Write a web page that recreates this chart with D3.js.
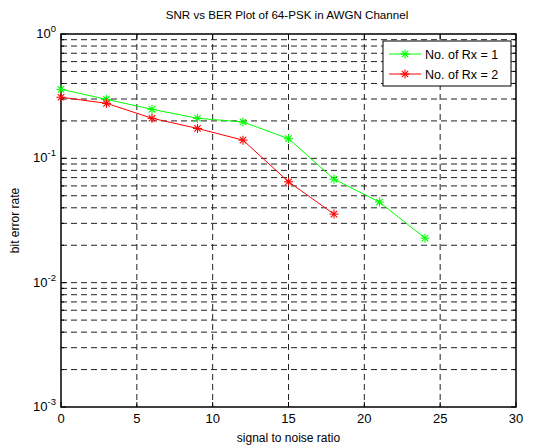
<html>
<head>
<script src="https://d3js.org/d3.v7.min.js"></script>
<style>
  body { margin: 0; background: #fff; }
  text { font-family: "Liberation Sans", Arial, sans-serif; fill: #000; }
  .grid { stroke: #222; stroke-width: 1; stroke-dasharray: 6,4; fill: none; }
</style>
</head>
<body>
<svg id="chart" width="546" height="448"></svg>
<script>
const snr1 = [0, 3, 6, 9, 12, 15, 18, 21, 24];
const ber1 = [0.359, 0.298, 0.248, 0.210, 0.196, 0.144, 0.068, 0.0445, 0.0228];
const snr2 = [0, 3, 6, 9, 12, 15, 18];
const ber2 = [0.31, 0.277, 0.210, 0.174, 0.140, 0.0648, 0.0356];
const xTicks = [0, 5, 10, 15, 20, 25, 30];
const yExps = [0, -1, -2, -3];
const legendLabels = ["No. of Rx = 1", "No. of Rx = 2"];
const colors = ["#00ff00", "#ff0000"];

const svg = d3.select("#chart");
const margin = {top: 34, right: 30, bottom: 41, left: 61};
const w = 546 - margin.left - margin.right;
const h = 448 - margin.top - margin.bottom;
const g = svg.append("g").attr("transform", "translate(" + margin.left + "," + margin.top + ")");

const x = d3.scaleLinear().domain([0, 30]).range([0, w]);
const y = d3.scaleLog().domain([1e-3, 1]).range([h, 0]);

// grid lines
const yGrid = [];
for (let e = -3; e < 0; e++) {
  for (let m = 1; m <= 9; m++) yGrid.push(m * Math.pow(10, e));
}
g.selectAll("line.ygrid").data(yGrid.filter(v => v > 1e-3)).join("line")
  .attr("class", "grid")
  .attr("x1", 0).attr("x2", w)
  .attr("y1", d => y(d)).attr("y2", d => y(d));
g.selectAll("line.xgrid").data(xTicks.slice(1, -1)).join("line")
  .attr("class", "grid")
  .attr("y1", 0).attr("y2", h)
  .attr("x1", d => x(d)).attr("x2", d => x(d));

// ticks (inward, both sides)
const tk = 5;
xTicks.forEach(t => {
  g.append("line").attr("x1", x(t)).attr("x2", x(t)).attr("y1", h).attr("y2", h - tk).attr("stroke", "#000");
  g.append("line").attr("x1", x(t)).attr("x2", x(t)).attr("y1", 0).attr("y2", tk).attr("stroke", "#000");
  g.append("text").attr("x", x(t)).attr("y", h + 16).attr("text-anchor", "middle")
    .attr("font-size", 13).text(t);
});
yGrid.concat([1]).forEach(v => {
  const major = yExps.some(e => Math.abs(Math.log10(v) - e) < 1e-9);
  const len = major ? tk : 3;
  g.append("line").attr("x1", 0).attr("x2", len).attr("y1", y(v)).attr("y2", y(v)).attr("stroke", "#000");
  g.append("line").attr("x1", w).attr("x2", w - len).attr("y1", y(v)).attr("y2", y(v)).attr("stroke", "#000");
});
yExps.forEach(e => {
  const t = g.append("text").attr("x", -5).attr("y", y(Math.pow(10, e)) + 4)
    .attr("text-anchor", "end").attr("font-size", 13);
  t.append("tspan").text("10");
  t.append("tspan").attr("dy", -6).attr("font-size", 9.5).text(e);
});

// frame
g.append("rect").attr("width", w).attr("height", h).attr("fill", "none").attr("stroke", "#000").attr("stroke-width", 1.5);

// series
function asterisk(sel, color) {
  const s = 4.5, d = 3.2;
  sel.each(function() {
    const m = d3.select(this);
    [[-s,0,s,0],[0,-s,0,s],[-d,-d,d,d],[-d,d,d,-d]].forEach(p =>
      m.append("line").attr("x1", p[0]).attr("y1", p[1]).attr("x2", p[2]).attr("y2", p[3])
        .attr("stroke", color).attr("stroke-width", 1.1));
  });
}
const line = d3.line().x(d => x(d[0])).y(d => y(d[1]));
const series = [d3.zip(snr1, ber1), d3.zip(snr2, ber2)];
series.forEach((s, i) => {
  g.append("path").datum(s).attr("d", line).attr("fill", "none").attr("stroke", colors[i]).attr("stroke-width", 1);
  g.selectAll("g.m" + i).data(s).join("g").attr("class", "m" + i)
    .attr("transform", d => "translate(" + x(d[0]) + "," + y(d[1]) + ")")
    .call(asterisk, colors[i]);
});

// legend
const lg = svg.append("g").attr("transform", "translate(383,41)");
lg.append("rect").attr("width", 128).attr("height", 45).attr("fill", "#fff").attr("stroke", "#000").attr("stroke-width", 1);
legendLabels.forEach((lab, i) => {
  const yy = 13 + i * 20;
  lg.append("line").attr("x1", 6).attr("x2", 38).attr("y1", yy).attr("y2", yy).attr("stroke", colors[i]);
  lg.append("g").attr("transform", "translate(22," + yy + ")").call(asterisk, colors[i]);
  lg.append("text").attr("x", 42).attr("y", yy + 4.5).attr("font-size", 12.5).text(lab);
});

// labels
svg.append("text").attr("x", 287).attr("y", 19).attr("text-anchor", "middle")
  .attr("font-size", 11.6).text("SNR vs BER Plot of 64-PSK in AWGN Channel");
svg.append("text").attr("x", margin.left + w / 2).attr("y", 442).attr("text-anchor", "middle")
  .attr("font-size", 12).text("signal to noise ratio");
svg.append("text").attr("transform", "translate(19," + (margin.top + h / 2) + ") rotate(-90)")
  .attr("text-anchor", "middle").attr("font-size", 12).text("bit error rate");
</script>
</body>
</html>
